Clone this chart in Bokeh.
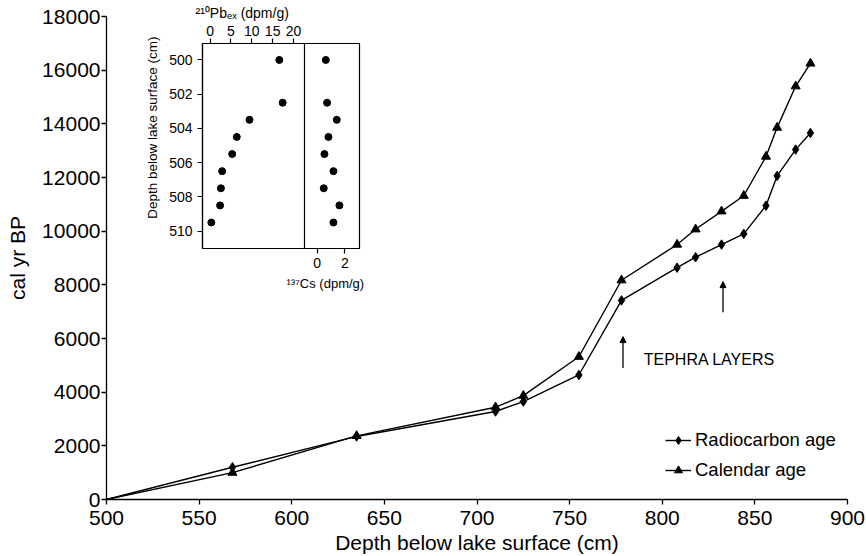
from bokeh.plotting import figure
from bokeh.models import (Range1d, FixedTicker, LinearAxis, ColumnDataSource, Legend, LegendItem,
                          Arrow, NormalHead, Span, Title, GridBox)
from bokeh.core.properties import value
from bokeh.embed import file_html
from bokeh.resources import INLINE

FONT = "Liberation Sans"

# ---------------- main chart data ----------------
depth = [500, 568, 635, 710, 725, 755, 778, 808, 818, 832, 844, 856, 862, 872, 880]
radiocarbon_age = [0, 1200, 2350, 3280, 3650, 4640, 7420, 8640, 9030, 9500, 9900, 10950, 12060, 13040, 13660]
calendar_age = [0, 1000, 2370, 3440, 3870, 5320, 8170, 9500, 10070, 10740, 11320, 12780, 13860, 15400, 16250]

x_ticks = [500, 550, 600, 650, 700, 750, 800, 850, 900]
y_ticks = [0, 2000, 4000, 6000, 8000, 10000, 12000, 14000, 16000, 18000]

tephra_depth = [778.8, 832.8]
tephra_arrow_base = [4900, 6980]
tephra_arrow_tip = [6070, 8120]
tephra_label = ["TEPHRA LAYERS"]
tephra_label_depth = [790]
tephra_label_age = [5210]

# ---------------- inset data ----------------
inset_depth = [500, 502.5, 503.5, 504.5, 505.5, 506.5, 507.5, 508.5, 509.5]
pb210_ex = [16.6, 17.4, 9.45, 6.4, 5.3, 2.9, 2.6, 2.4, 0.3]
cs137 = [0.63, 0.72, 1.42, 0.82, 0.53, 1.18, 0.48, 1.61, 1.18]
inset_depth_ticks = [500, 502, 504, 506, 508, 510]
pb_ticks = [0, 5, 10, 15, 20]
cs_ticks = [0, 2]


def style_axis(ax, font_size, tick_out=5, width=1.3):
    ax.axis_line_color = "black"
    ax.axis_line_width = width
    ax.major_tick_line_color = "black"
    ax.major_tick_line_width = width
    ax.major_tick_out = tick_out
    ax.major_tick_in = 0
    ax.minor_tick_line_color = None
    ax.major_label_text_font = FONT
    ax.major_label_text_font_size = font_size
    ax.major_label_text_color = "black"
    ax.axis_label_text_font = FONT
    ax.axis_label_text_font_style = "normal"
    ax.axis_label_text_color = "black"


# ---------------- main figure ----------------
p = figure(frame_width=741, frame_height=484,
           x_range=Range1d(500, 900), y_range=Range1d(0, 18000),
           output_backend="svg", toolbar_location=None, tools="",
           min_border_left=106, min_border_right=19, min_border_top=16, min_border_bottom=56)
p.xgrid.visible = False
p.ygrid.visible = False
p.outline_line_color = None

p.xaxis.ticker = FixedTicker(ticks=x_ticks)
p.yaxis.ticker = FixedTicker(ticks=y_ticks)
for ax in (p.xaxis[0], p.yaxis[0]):
    style_axis(ax, "21px")
    ax.axis_label_text_font_size = "21px"
p.xaxis.axis_label = "Depth below lake surface (cm)"
p.yaxis.axis_label = "cal yr BP"
p.xaxis.major_label_standoff = 6
p.xaxis.axis_label_standoff = 3
p.yaxis.major_label_standoff = 1
p.yaxis.axis_label_standoff = 10

src = ColumnDataSource(dict(depth=depth, rad=radiocarbon_age, cal=calendar_age))
msrc = ColumnDataSource(dict(depth=depth[1:], rad=radiocarbon_age[1:], cal=calendar_age[1:]))

rl = p.line("depth", "rad", source=src, line_color="black", line_width=1.4)
rm = p.scatter("depth", "rad", source=msrc, marker="diamond", size=9.5,
               fill_color="black", line_color="black")
cl = p.line("depth", "cal", source=src, line_color="black", line_width=1.4)
cm = p.scatter("depth", "cal", source=msrc, marker="triangle", size=9,
               fill_color="black", line_color="black")

arrow_src = ColumnDataSource(dict(x=tephra_depth, y0=tephra_arrow_base, y1=tephra_arrow_tip))
p.add_layout(Arrow(end=NormalHead(size=6, fill_color="black", line_color="black", line_width=1),
                   x_start="x", y_start="y0", x_end="x", y_end="y1", source=arrow_src,
                   line_color="black", line_width=1.3))
p.text(x=tephra_label_depth, y=tephra_label_age, text=tephra_label,
       text_font=value(FONT), text_font_size="16px", text_color="black",
       text_align="left", text_baseline="middle")

legend = Legend(items=[LegendItem(label="Radiocarbon age", renderers=[rl, rm]),
                       LegendItem(label="Calendar age", renderers=[cl, cm])],
                location=(559, 18), orientation="vertical", padding=0, margin=0, spacing=8,
                glyph_width=26, glyph_height=20, label_height=20, label_standoff=4,
                border_line_color=None, background_fill_alpha=0,
                label_text_font=FONT, label_text_font_size="18.5px", label_text_color="black")
p.add_layout(legend)

# ---------------- inset figure ----------------
ins = figure(frame_width=157, frame_height=205,
             x_range=Range1d(-1.82, 35.83), y_range=Range1d(511.02, 499.04),
             x_axis_location="above", output_backend="svg", toolbar_location=None, tools="",
             min_border_left=63, min_border_right=14, min_border_top=41, min_border_bottom=50,
             title="²¹⁰Pbₑₓ (dpm/g)")
ins.extra_x_ranges = {"cs": Range1d(-8.27, 3.06)}
ins.xgrid.visible = False
ins.ygrid.visible = False
ins.outline_line_color = "black"
ins.outline_line_width = 1.2
ins.background_fill_color = None
ins.border_fill_color = None

ins.title.align = "left"
ins.title.offset = -7
ins.title.standoff = 3
ins.title.text_font = FONT
ins.title.text_font_size = "14px"
ins.title.text_font_style = "normal"
ins.title.text_color = "black"

ins.xaxis.ticker = FixedTicker(ticks=pb_ticks)
ins.yaxis.ticker = FixedTicker(ticks=inset_depth_ticks)
for ax in (ins.xaxis[0], ins.yaxis[0]):
    style_axis(ax, "14px", tick_out=5, width=1.2)
ins.xaxis.major_label_standoff = 3
ins.yaxis.major_label_standoff = 5

# inset depth title, its upper end a little above the frame top as in the reference
depth_title = Title(text="Depth below lake surface (cm)", align="right", offset=-7, standoff=13,
                    text_font=FONT, text_font_size="13.5px", text_font_style="normal",
                    text_color="black")
ins.add_layout(depth_title, "left")

cs_axis = LinearAxis(x_range_name="cs", ticker=FixedTicker(ticks=cs_ticks))
style_axis(cs_axis, "14px", tick_out=5, width=1.2)
cs_axis.major_label_standoff = 4
ins.add_layout(cs_axis, "below")
cs_title = Title(text="¹³⁷Cs (dpm/g)", align="left", offset=84, standoff=7,
                 text_font=FONT, text_font_size="13px", text_font_style="normal", text_color="black")
ins.add_layout(cs_title, "below")

ins.add_layout(Span(location=22.64, dimension="height", line_color="black", line_width=1.2))

ins.scatter(pb210_ex, inset_depth, size=7, fill_color="black", line_color="black")
ins.scatter(cs137, inset_depth, x_range_name="cs", size=7, fill_color="black", line_color="black")

grid = GridBox(children=[(p, 0, 0, 3, 3), (ins, 1, 1)],
               rows=["1px", "400px", "155px"], cols=["136px", "304px", "426px"], spacing=0)

open("out.html", "w").write(file_html(grid, INLINE))
